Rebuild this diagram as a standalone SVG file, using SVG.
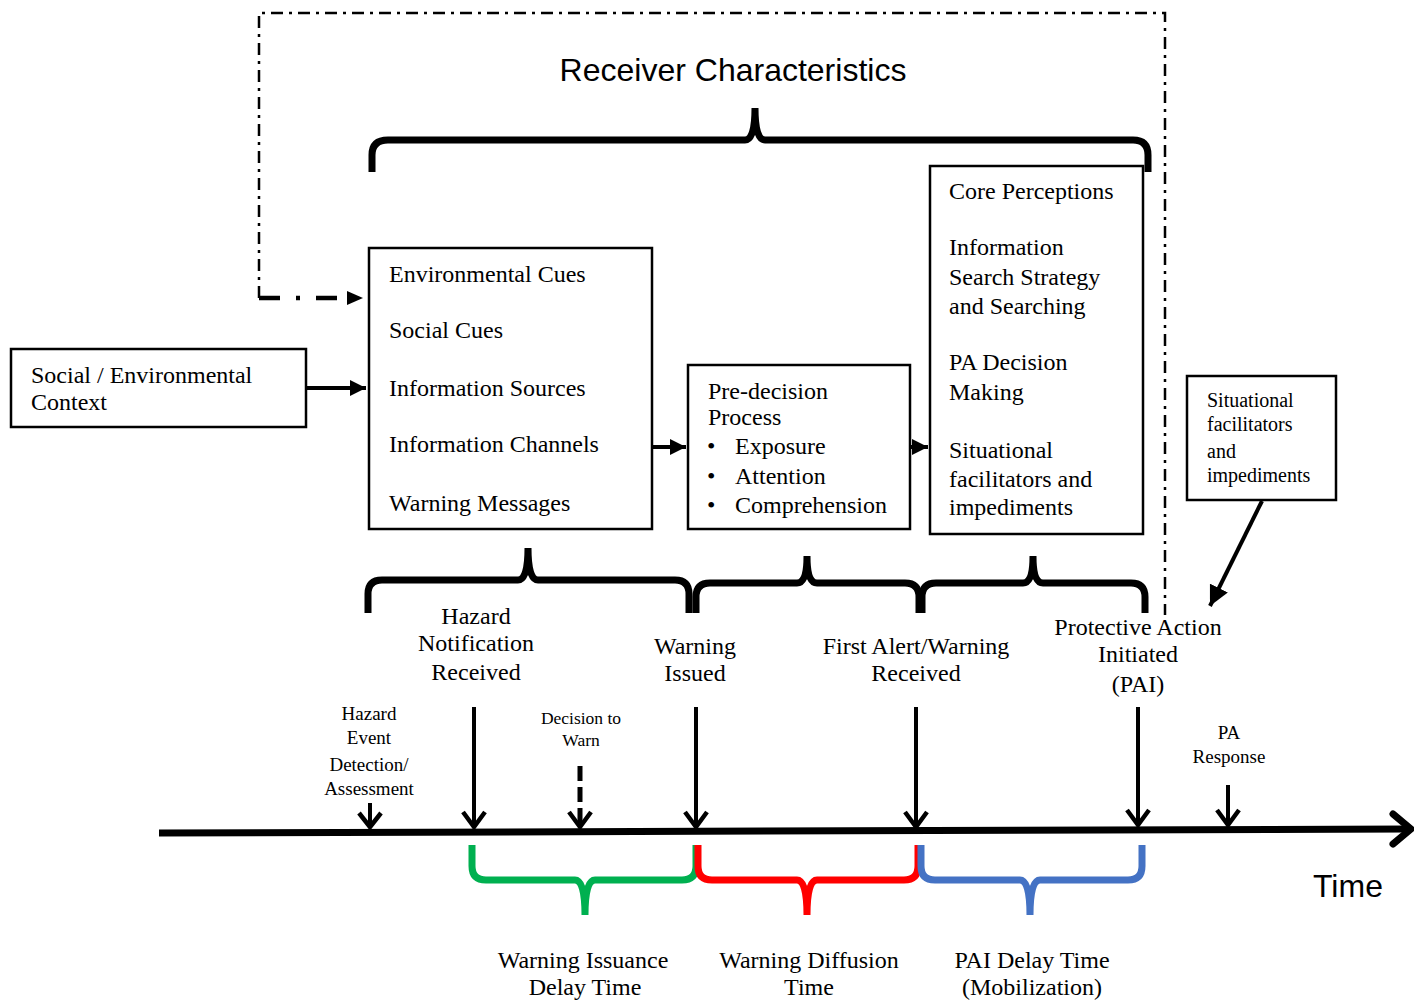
<svg xmlns="http://www.w3.org/2000/svg" width="1414" height="1004" viewBox="0 0 1414 1004">
<style>
.box{fill:#fff;stroke:#000;stroke-width:2.5}
.t{font-family:"Liberation Serif","Times New Roman",serif;font-size:24px;fill:#000}
.s19{font-size:19px}
.s20{font-size:20px}
.s17{font-size:17.5px}
.c{text-anchor:middle}
.sans{font-family:"Liberation Sans",Arial,sans-serif;font-size:32px;fill:#000}
.brace{fill:none;stroke-width:7;stroke-linejoin:bevel;stroke-linecap:butt}
.ln{stroke:#000;stroke-width:4;fill:none}
.chev{fill:none;stroke:#000;stroke-width:4.5;stroke-linejoin:miter}
</style>
<defs>
<marker id="tri" markerWidth="4" markerHeight="4" refX="4" refY="2" orient="auto" markerUnits="strokeWidth">
<path d="M0,0 L4,2 L0,4 Z" fill="#000"/>
</marker>
<marker id="tri2" markerWidth="5" markerHeight="5" refX="5" refY="2.5" orient="auto" markerUnits="strokeWidth">
<path d="M0,0 L5,2.5 L0,5 Z" fill="#000"/>
</marker>
</defs>
<rect width="1414" height="1004" fill="#fff"/>

<g id="connectors">
<path d="M259,298 L259,13 L1165,13 L1165,615" fill="none" stroke="#000" stroke-width="2.5" stroke-dasharray="12 6 3 6"/>
<path d="M259,298 L346,298" fill="none" stroke="#000" stroke-width="4.5" stroke-dasharray="21 16 4 16"/>
<path d="M347,291 L363,298 L347,305 Z" fill="#000"/>
<line x1="306" y1="388" x2="366" y2="388" class="ln" marker-end="url(#tri)"/>
<line x1="652" y1="447" x2="686" y2="447" class="ln" marker-end="url(#tri)"/>
<line x1="910" y1="447" x2="928" y2="447" class="ln" marker-end="url(#tri)"/>
<line x1="1262" y1="501" x2="1210" y2="606" class="ln" marker-end="url(#tri2)"/>
<line x1="159" y1="833" x2="1410" y2="829" stroke="#000" stroke-width="7"/>
<polyline points="1393,814 1411,829 1393,844" fill="none" stroke="#000" stroke-width="7" stroke-linecap="round"/>
<line x1="370" y1="803" x2="370" y2="826" class="ln"/>
<polyline points="359,813 370,827 381,813" class="chev"/>
<line x1="474" y1="707" x2="474" y2="826" class="ln"/>
<polyline points="463,812 474,827 485,812" class="chev"/>
<line x1="580" y1="766" x2="580" y2="826" stroke="#000" stroke-width="5" stroke-dasharray="15 6"/>
<polyline points="569,812 580,827 591,812" class="chev"/>
<line x1="696" y1="707" x2="696" y2="826" class="ln"/>
<polyline points="685,812 696,827 707,812" class="chev"/>
<line x1="916" y1="707" x2="916" y2="826" class="ln"/>
<polyline points="905,812 916,827 927,812" class="chev"/>
<line x1="1138" y1="707" x2="1138" y2="824" class="ln"/>
<polyline points="1127,810 1138,825 1149,810" class="chev"/>
<line x1="1228" y1="785" x2="1228" y2="824" class="ln"/>
<polyline points="1217,810 1228,825 1239,810" class="chev"/>
</g>

<g id="braces">
<path class="brace" stroke="#000" d="M372,172 L372,155 Q372,140 388,140 L745,140 Q755,140 755,108 Q755,140 765,140 L1133,140 Q1148,140 1148,155 L1148,172"/>
<path class="brace" stroke="#000" d="M368,613 L368,594 Q368,580 382,580 L518,580 Q528,580 528,548 Q528,580 538,580 L675,580 Q689,580 689,594 L689,613"/>
<path class="brace" stroke="#000" d="M696,613 L696,597 Q696,583 710,583 L797,583 Q807,583 807,556 Q807,583 817,583 L905,583 Q919,583 919,597 L919,613"/>
<path class="brace" stroke="#000" d="M922,613 L922,597 Q922,583 936,583 L1023,583 Q1033,583 1033,556 Q1033,583 1043,583 L1131,583 Q1145,583 1145,597 L1145,613"/>
<path class="brace" stroke="#00B050" d="M472,845 L472,866 Q472,880 486,880 L575,880 Q585,880 585,915 Q585,880 595,880 L682,880 Q696,880 696,866 L696,845"/>
<path class="brace" stroke="#FF0000" d="M698,845 L698,866 Q698,880 712,880 L797,880 Q807,880 807,915 Q807,880 817,880 L904,880 Q918,880 918,866 L918,845"/>
<path class="brace" stroke="#4472C4" d="M921,845 L921,866 Q921,880 935,880 L1020,880 Q1030,880 1030,915 Q1030,880 1040,880 L1128,880 Q1142,880 1142,866 L1142,845"/>
</g>

<g id="title">
<text class="sans c" x="733" y="81">Receiver Characteristics</text>
</g>

<g id="node-context">
<rect class="box" x="11" y="349" width="295" height="78"/>
<text class="t" x="31" y="383">Social / Environmental</text>
<text class="t" x="31" y="410">Context</text>
</g>

<g id="node-cues">
<rect class="box" x="369" y="248" width="283" height="281"/>
<text class="t" x="389" y="282">Environmental Cues</text>
<text class="t" x="389" y="338">Social Cues</text>
<text class="t" x="389" y="396">Information Sources</text>
<text class="t" x="389" y="452">Information Channels</text>
<text class="t" x="389" y="511">Warning Messages</text>
</g>

<g id="node-predecision">
<rect class="box" x="688" y="365" width="222" height="164"/>
<text class="t" x="708" y="399">Pre-decision</text>
<text class="t" x="708" y="425">Process</text>
<text class="t" x="707" y="454">•</text>
<text class="t" x="735" y="454">Exposure</text>
<text class="t" x="707" y="484">•</text>
<text class="t" x="735" y="484">Attention</text>
<text class="t" x="707" y="513">•</text>
<text class="t" x="735" y="513">Comprehension</text>
</g>

<g id="node-core">
<rect class="box" x="930" y="166" width="213" height="368"/>
<text class="t" x="949" y="199">Core Perceptions</text>
<text class="t" x="949" y="255">Information</text>
<text class="t" x="949" y="285">Search Strategy</text>
<text class="t" x="949" y="314">and Searching</text>
<text class="t" x="949" y="370">PA Decision</text>
<text class="t" x="949" y="400">Making</text>
<text class="t" x="949" y="458">Situational</text>
<text class="t" x="949" y="487">facilitators and</text>
<text class="t" x="949" y="515">impediments</text>
</g>

<g id="node-situational">
<rect class="box" x="1187" y="376" width="149" height="124"/>
<text class="t s20" x="1207" y="407">Situational</text>
<text class="t s20" x="1207" y="431">facilitators</text>
<text class="t s20" x="1207" y="458">and</text>
<text class="t s20" x="1207" y="482">impediments</text>
</g>

<g id="labels">
<text class="t c" x="476" y="624">Hazard</text>
<text class="t c" x="476" y="651">Notification</text>
<text class="t c" x="476" y="680">Received</text>
<text class="t c" x="695" y="654">Warning</text>
<text class="t c" x="695" y="681">Issued</text>
<text class="t c" x="916" y="654">First Alert/Warning</text>
<text class="t c" x="916" y="681">Received</text>
<text class="t c" x="1138" y="635">Protective Action</text>
<text class="t c" x="1138" y="662">Initiated</text>
<text class="t c" x="1138" y="692">(PAI)</text>
<text class="t s19 c" x="369" y="720">Hazard</text>
<text class="t s19 c" x="369" y="744">Event</text>
<text class="t s19 c" x="369" y="771">Detection/</text>
<text class="t s19 c" x="369" y="795">Assessment</text>
<text class="t s17 c" x="581" y="724">Decision to</text>
<text class="t s17 c" x="581" y="746">Warn</text>
<text class="t s19 c" x="1229" y="739">PA</text>
<text class="t s19 c" x="1229" y="763">Response</text>
<text class="sans" x="1313" y="897">Time</text>
<text class="t c" x="583" y="968">Warning Issuance</text>
<text class="t c" x="585" y="995">Delay Time</text>
<text class="t c" x="809" y="968">Warning Diffusion</text>
<text class="t c" x="809" y="995">Time</text>
<text class="t c" x="1032" y="968">PAI Delay Time</text>
<text class="t c" x="1032" y="995">(Mobilization)</text>
</g>
</svg>
